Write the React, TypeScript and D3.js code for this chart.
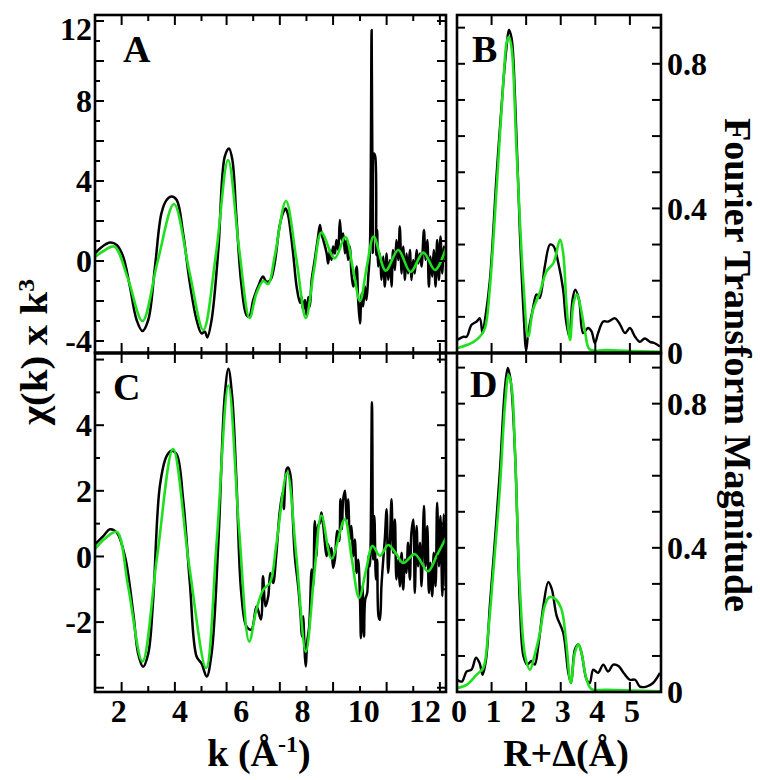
import React from 'react';
import * as d3 from 'd3';

type P = [number, number];

// Panel A: chi(k)*k^3, data (black) and fit (green)
const aData: P[] = [
  [1.22,0.38],[1.38,0.63],[1.71,0.92],[1.93,0.8],[2.14,0.22],[2.36,-1.28],[2.58,-2.95],[2.77,-3.5],[2.96,-2.95],[3.18,-0.28],[3.39,2.38],[3.56,3.05],[3.72,3.22],[3.89,3.05],[4.1,1.38],[4.32,-1.12],[4.54,-2.95],[4.7,-3.62],[4.81,-3.53],[4.89,-3.82],[5.03,-2.95],[5.25,0.55],[5.46,5.22],[5.6,5.63],[5.71,5.05],[5.84,2.22],[6.0,-1.12],[6.17,-2.7],[6.26,-2.78],[6.39,-1.95],[6.55,-1.28],[6.71,-0.78],[6.82,-1.03],[6.95,-0.95],[7.09,-0.12],[7.25,1.72],[7.36,2.38],[7.45,2.63],
  [7.53,2.3],[7.6,1.6],[7.7,0.3],[7.81,-1.3],[7.92,-2.1],[7.97,-1.8],[8.02,-2.45],[8.08,-1.95],[8.13,-2.7],[8.19,-1.8],[8.24,-2.28],[8.3,-0.95],[8.4,0.05],[8.51,1.22],[8.57,1.8],[8.62,1.38],[8.68,1.05],[8.79,0.38],[8.84,-0.12],[8.9,0.55],[8.95,0.05],[9.0,0.72],[9.06,0.38],[9.11,1.05],[9.17,0.55],[9.22,2.05],[9.28,1.05],[9.33,1.38],[9.39,0.38],[9.44,1.05],[9.49,0.05],[9.55,0.72],[9.6,-0.62],[9.66,-1.28],[9.71,-0.95],[9.77,-0.28],[9.82,-1.95],[9.88,-3.12],[9.93,-1.62],[9.98,-2.28],[10.04,-1.28],[10.09,-1.95],[10.15,-0.78],[10.2,0.38],[10.26,11.55],[10.3,0.4],[10.34,5.38],[10.38,5.2],[10.41,0.3],[10.44,1.55],[10.47,-0.28],[10.53,0.38],[10.58,-0.95],[10.64,0.22],[10.69,-1.28],[10.75,0.38],[10.8,-0.95],[10.86,0.05],[10.91,-1.28],[10.96,0.55],[11.02,-0.45],[11.07,1.05],[11.13,0.05],[11.18,1.72],[11.24,-0.62],[11.29,0.72],[11.35,-0.95],[11.4,0.38],[11.45,-0.62],[11.51,0.55],[11.56,-0.95],[11.62,0.05],[11.67,-0.62],[11.73,0.55],[11.78,-0.12],[11.84,0.38],[11.89,-0.28],[11.97,1.55],[12.02,0.05],[12.08,1.05],[12.13,-1.28],[12.18,0.22],[12.24,-0.78],[12.29,0.55],[12.35,-1.28],[12.4,1.05],[12.46,-0.95],[12.51,1.22],[12.57,-0.62],[12.62,0.72],[12.69,0.05]
];
const aFit: P[] = [
  [1.22,0.2],[1.5,0.5],[1.85,0.72],[2.3,-0.9],[2.77,-3.0],[3.27,0.0],[3.8,2.85],[4.3,-0.5],[4.76,-3.45],[5.17,0.3],[5.57,5.05],[5.93,0.6],[6.27,-2.85],[6.5,-1.6],[6.72,-1.0],[6.88,-1.15],[7.1,0.3],[7.46,3.0],[7.8,0.1],[8.11,-2.85],[8.38,-0.4],[8.62,1.42],[9.05,0.13],[9.4,1.2],[9.65,-0.4],[9.88,-2.0],[10.1,-0.3],[10.33,1.22],[10.72,-0.48],[11.13,0.55],[11.53,-0.55],[11.95,0.42],[12.33,-0.45],[12.69,0.65]
];

// Panel C
const cData: P[] = [
  [1.22,0.37],[1.49,0.62],[1.71,0.83],[1.93,0.73],[2.2,0],[2.47,-1.73],[2.63,-2.96],[2.79,-3.36],[2.96,-2.96],[3.12,-1.33],[3.34,2.15],[3.56,3.06],[3.72,3.22],[3.89,3.11],[4.1,1.74],[4.32,-0.81],[4.54,-3.05],[4.7,-3.26],[4.87,-3.66],[5.03,-2.96],[5.25,0.41],[5.46,4.9],[5.58,5.72],[5.7,4.9],[5.84,2.36],[6.0,-1.12],[6.17,-2.13],[6.33,-2.23],[6.5,-1.52],[6.64,-1.92],[6.71,-0.6],[6.79,-1.52],[6.88,-1.22],[6.95,-0.5],[7.04,-0.81],[7.14,0],[7.25,1.3],
  [7.35,1.95],[7.39,1.44],[7.48,2.66],[7.53,2.71],[7.61,2.46],[7.67,1.44],[7.75,0.01],[7.86,-0.91],[7.94,-1.82],[7.98,-2.44],[8.02,-1.82],[8.08,-3.05],[8.11,-3.35],[8.15,-2.64],[8.22,-2.13],[8.3,-0.4],[8.35,-0.91],[8.4,1.08],[8.46,0.01],[8.51,0.93],[8.57,1.03],[8.62,1.34],[8.68,0.93],[8.79,0.01],[8.84,0.37],[8.9,0.01],[8.95,0.26],[9.0,-0.35],[9.06,-0.09],[9.13,0.78],[9.2,0.47],[9.24,1.74],[9.29,0.83],[9.33,1.74],[9.39,2.0],[9.44,1.13],[9.49,1.74],[9.55,0.52],[9.6,0.93],[9.66,0.01],[9.71,0.52],[9.77,-0.5],[9.82,-0.09],[9.88,-1.31],[9.91,-2.49],[9.96,-0.91],[10.01,-2.44],[10.05,-1.31],[10.115,-1.11],[10.16,0.01],[10.2,-0.3],[10.27,4.7],[10.31,-0.09],[10.35,1.23],[10.4,-0.7],[10.44,-0.09],[10.485,-1.82],[10.53,-1.93],[10.58,-0.91],[10.64,-0.09],[10.69,0.52],[10.75,1.44],[10.8,-0.5],[10.86,0.52],[10.91,1.74],[10.96,0.11],[11.02,1.13],[11.07,-0.7],[11.13,-0.09],[11.18,-0.91],[11.24,0.11],[11.29,-1.01],[11.35,-0.09],[11.4,-0.5],[11.45,0.42],[11.51,-0.7],[11.56,0.72],[11.62,1.13],[11.67,-1.11],[11.73,0.93],[11.78,-0.3],[11.84,0.42],[11.89,-0.91],[11.97,1.54],[12.02,-0.3],[12.08,0.93],[12.13,-1.11],[12.18,-0.19],[12.24,-1.21],[12.29,0.11],[12.35,-0.91],[12.4,1.64],[12.46,-0.3],[12.51,1.23],[12.57,-1.21],[12.62,1.29],[12.68,-0.91]
];
const cFit: P[] = [
  [1.22,0.23],[1.55,0.55],[1.93,0.75],[2.3,-0.9],[2.77,-3.2],[3.25,0.0],[3.77,3.27],[4.3,-0.3],[4.85,-3.4],[5.2,0.5],[5.58,5.21],[5.93,0.8],[6.26,-2.59],[6.5,-1.6],[6.72,-1.01],[6.94,-0.8],[7.15,0.4],[7.5,2.56],[7.8,0.0],[8.11,-2.9],[8.38,-0.6],[8.62,1.25],[8.95,-0.06],[9.38,1.13],[9.6,0.0],[9.85,-1.26],[10.08,-0.4],[10.29,0.32],[10.53,0.02],[10.8,0.35],[11.05,0.1],[11.29,-0.2],[11.67,0.07],[12.1,-0.45],[12.4,0.05],[12.69,0.57]
];

// Panel B: Fourier transform magnitude
const bData: P[] = [
  [0,0.036],[0.19,0.045],[0.28,0.045],[0.42,0.078],[0.57,0.087],[0.66,0.096],[0.74,0.055],[0.81,0.092],[0.95,0.2],[1.15,0.5],[1.34,0.75],[1.44,0.852],[1.5,0.894],[1.58,0.87],[1.68,0.703],[1.82,0.33],[1.92,0.12],[2.0,0.008],[2.06,0.055],[2.19,0.12],[2.3,0.162],[2.39,0.152],[2.54,0.24],[2.69,0.3],[2.79,0.296],[2.93,0.249],[3.07,0.175],[3.15,0.092],[3.25,0.045],[3.34,0.147],[3.42,0.175],[3.53,0.147],[3.65,0.055],[3.79,0.069],[3.89,0.06],[3.99,0.027],[4.08,0.055],[4.23,0.087],[4.37,0.087],[4.57,0.096],[4.72,0.078],[4.86,0.055],[5.0,0.069],[5.15,0.045],[5.29,0.031],[5.43,0.04],[5.58,0.031],[5.72,0.027],[5.87,0.018]
];
const bFit: P[] = [
  [0,0.013],[0.28,0.022],[0.48,0.031],[0.66,0.045],[0.81,0.069],[0.95,0.18],[1.15,0.463],[1.34,0.75],[1.44,0.861],[1.5,0.875],[1.58,0.843],[1.72,0.565],[1.92,0.194],[2.06,0.045],[2.2,0.12],[2.39,0.166],[2.59,0.226],[2.79,0.249],[2.98,0.314],[3.07,0.277],[3.17,0.129],[3.27,0.036],[3.37,0.138],[3.47,0.162],[3.57,0.129],[3.71,0.055],[3.84,0.01],[4.33,0.008],[5.87,0.003]
];

// Panel D
const dData: P[] = [
  [0,0.034],[0.14,0.029],[0.28,0.057],[0.42,0.062],[0.55,0.095],[0.65,0.081],[0.74,0.048],[0.84,0.09],[0.95,0.24],[1.1,0.426],[1.24,0.613],[1.39,0.847],[1.47,0.899],[1.55,0.866],[1.68,0.66],[1.82,0.24],[1.92,0.1],[2.03,0.076],[2.16,0.086],[2.25,0.076],[2.35,0.127],[2.5,0.24],[2.64,0.305],[2.74,0.286],[2.88,0.212],[3.07,0.165],[3.22,0.053],[3.3,0.025],[3.41,0.118],[3.51,0.132],[3.6,0.109],[3.75,0.034],[3.84,0.025],[3.94,0.062],[4.08,0.053],[4.23,0.076],[4.37,0.057],[4.52,0.076],[4.67,0.072],[4.82,0.053],[5.0,0.034],[5.15,0.034],[5.29,0.015],[5.48,0.015],[5.67,0.025],[5.87,0.053]
];
const dFit: P[] = [
  [0,0.011],[0.28,0.02],[0.57,0.048],[0.76,0.067],[0.9,0.165],[1.05,0.333],[1.24,0.566],[1.39,0.8],[1.49,0.88],[1.58,0.847],[1.68,0.66],[1.82,0.286],[1.97,0.1],[2.11,0.062],[2.25,0.104],[2.4,0.165],[2.54,0.24],[2.67,0.263],[2.83,0.259],[3.02,0.23],[3.15,0.146],[3.29,0.025],[3.41,0.109],[3.51,0.132],[3.6,0.109],[3.75,0.034],[3.89,0.008],[4.33,0.006],[5.87,0.002]
];

// Tick labels / tick positions
const kLabels = [2, 4, 6, 8, 10, 12];
const kTickMarks = [2.09, 2.96, 3.83, 4.7, 5.52, 6.39, 7.26, 8.13, 9.0, 9.88, 10.75, 11.62, 12.49];
const aYLabels = [12, 8, 4, 0, -4];
const aYTicks = [-4, -3, -2, -1, 0, 1, 2, 3, 4, 5, 6, 7, 8, 9, 10, 11, 12];
const cYLabels = [4, 2, 0, -2];
const cYTicks = [-4, -3, -2, -1, 0, 1, 2, 3, 4, 5, 6];
const rLabels = [0, 1, 2, 3, 4, 5];
const rTickMarks = [1, 2, 3, 4, 5];
const ftLabels = [0.8, 0.4, 0];
const ftTicks = [0.1, 0.2, 0.3, 0.4, 0.5, 0.6, 0.7, 0.8, 0.9];

const FONT = "'Liberation Serif', 'Times New Roman', serif";
const GREEN = '#1fe01f';

const L1 = 95, R1 = 446, L2 = 457, R2 = 661, T = 15, M = 353, B = 692;

const xK = d3.scaleLinear().domain([1.22, 12.69]).range([L1, R1]);
const yA = d3.scaleLinear().domain([-4.6, 12.3]).range([M, T]);
const yC = d3.scaleLinear().domain([-4.13, 6.2]).range([B, M]);
const xR = d3.scaleLinear().domain([0, 5.9]).range([L2, R2]);
const yB = d3.scaleLinear().domain([0, 0.935]).range([M, T]);
const yD = d3.scaleLinear().domain([0, 0.935]).range([B, M + 2]);

function lineGen(x: d3.ScaleLinear<number, number>, y: d3.ScaleLinear<number, number>) {
  return d3.line<P>().x(d => x(d[0])).y(d => y(d[1])).curve(d3.curveCatmullRom.alpha(0.5));
}

function KPanel({ id, y, data, fit, top, bottom, yTicks }: any) {
  const lg = lineGen(xK, y);
  return (
    <g>
      <clipPath id={id}><rect x={L1} y={top} width={R1 - L1} height={bottom - top} /></clipPath>
      <g clipPath={`url(#${id})`}>
        <path d={lg(data) || ''} fill="none" stroke="#000" strokeWidth={2.5} strokeLinejoin="round" />
        <path d={lg(fit) || ''} fill="none" stroke={GREEN} strokeWidth={2.6} strokeLinejoin="round" />
      </g>
      {yTicks.map((v: number) => {
        const len = v % 2 === 0 ? 9 : 5;
        const yy = y(v);
        return (
          <g key={'y' + v} stroke="#000" strokeWidth={2}>
            <line x1={L1} x2={L1 + len} y1={yy} y2={yy} />
            <line x1={R1} x2={R1 - len} y1={yy} y2={yy} />
          </g>
        );
      })}
      {kTickMarks.map((k, i) => {
        const len = i % 2 === 0 ? 10 : 6;
        const xx = xK(k);
        return (
          <g key={'x' + i} stroke="#000" strokeWidth={2}>
            <line x1={xx} x2={xx} y1={top} y2={top + len} />
            <line x1={xx} x2={xx} y1={bottom} y2={bottom - len} />
          </g>
        );
      })}
      <rect x={L1} y={top} width={R1 - L1} height={bottom - top} fill="none" stroke="#000" strokeWidth={2.6} />
    </g>
  );
}

function RPanel({ id, y, data, fit, top, bottom }: any) {
  const lg = lineGen(xR, y);
  return (
    <g>
      <clipPath id={id}><rect x={L2} y={top} width={R2 - L2} height={bottom - top} /></clipPath>
      <g clipPath={`url(#${id})`}>
        <path d={lg(data) || ''} fill="none" stroke="#000" strokeWidth={2.4} strokeLinejoin="round" />
        <path d={lg(fit) || ''} fill="none" stroke={GREEN} strokeWidth={2.6} strokeLinejoin="round" />
      </g>
      {ftTicks.map(v => {
        const yy = y(v);
        return (
          <g key={'y' + v} stroke="#000" strokeWidth={2}>
            <line x1={L2} x2={L2 + 8} y1={yy} y2={yy} />
            <line x1={R2} x2={R2 - 9} y1={yy} y2={yy} />
          </g>
        );
      })}
      {rTickMarks.map(r => {
        const xx = xR(r);
        return (
          <g key={'x' + r} stroke="#000" strokeWidth={2}>
            <line x1={xx} x2={xx} y1={top} y2={top + 10} />
            <line x1={xx} x2={xx} y1={bottom} y2={bottom - 10} />
          </g>
        );
      })}
      <rect x={L2} y={top} width={R2 - L2} height={bottom - top} fill="none" stroke="#000" strokeWidth={2.6} />
    </g>
  );
}

export default function App() {
  const tick = { fontFamily: FONT, fontWeight: 'bold' as const, fontSize: 32, fill: '#000' };
  const title = { fontFamily: FONT, fontWeight: 'bold' as const, fontSize: 38, fill: '#000' };
  return (
    <svg width={760} height={780} style={{ position: 'absolute', left: 0, top: 0, background: '#fff' }}>
      <rect x={0} y={0} width={760} height={780} fill="#fff" />
      <KPanel id="clipA" y={yA} data={aData} fit={aFit} top={T} bottom={M} yTicks={aYTicks} />
      <KPanel id="clipC" y={yC} data={cData} fit={cFit} top={M} bottom={B} yTicks={cYTicks} />
      <RPanel id="clipB" y={yB} data={bData} fit={bFit} top={T} bottom={M} />
      <RPanel id="clipD" y={yD} data={dData} fit={dFit} top={M} bottom={B} />
      <line x1={L1} x2={R2} y1={M} y2={M} stroke="#000" strokeWidth={3.2} />

      {/* panel letters */}
      <text x={123} y={62} {...title}>A</text>
      <text x={472} y={62} {...title}>B</text>
      <text x={113} y={400} {...title}>C</text>
      <text x={470} y={397} {...title}>D</text>

      {/* left tick labels */}
      {aYLabels.map(v => (
        <text key={'al' + v} x={92} y={Math.max(yA(v), T + 14)} dy="0.35em" textAnchor="end" {...tick}>{v}</text>
      ))}
      {cYLabels.map(v => (
        <text key={'cl' + v} x={92} y={yC(v)} dy="0.35em" textAnchor="end" {...tick}>{v}</text>
      ))}
      {/* right tick labels */}
      {ftLabels.map(v => (
        <text key={'bl' + v} x={667} y={yB(v)} dy="0.35em" {...tick}>{v}</text>
      ))}
      {ftLabels.map(v => (
        <text key={'dl' + v} x={667} y={yD(v)} dy="0.35em" {...tick}>{v}</text>
      ))}
      {/* bottom tick labels */}
      {kLabels.map(k => (
        <text key={'kl' + k} x={xK(k)} y={722} textAnchor="middle" {...tick}>{k}</text>
      ))}
      {rLabels.map(r => (
        <text key={'rl' + r} x={xR(r) + 2} y={722} textAnchor="middle" {...tick}>{r}</text>
      ))}

      {/* axis titles */}
      <text x={259} y={766} textAnchor="middle" {...title}>
        k (Å<tspan dy={-14} fontSize={24}>-1</tspan><tspan dy={14}>)</tspan>
      </text>
      <text x={566} y={766} textAnchor="middle" {...title}>R+Δ(Å)</text>
      <text transform="translate(47,352) rotate(-90)" textAnchor="middle" {...title} fontSize={37}
        textLength={146} lengthAdjust="spacingAndGlyphs">
        χ(k) x k<tspan dy={-13} fontSize={23}>3</tspan>
      </text>
      <text transform="translate(725,365) rotate(90)" textAnchor="middle" {...title}>Fourier Transform Magnitude</text>
    </svg>
  );
}
